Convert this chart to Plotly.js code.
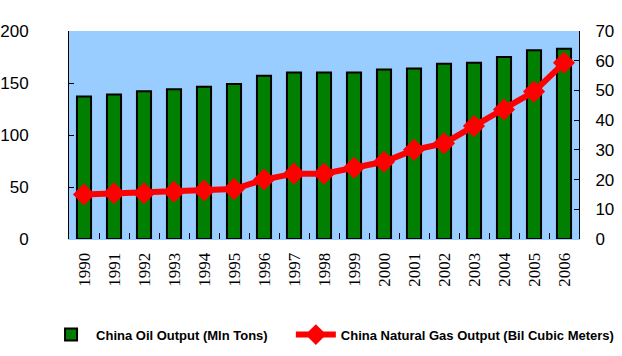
<!DOCTYPE html>
<html><head><meta charset="utf-8">
<script src="https://cdn.plot.ly/plotly-3.0.1.min.js"></script>
<style>html,body{margin:0;padding:0;background:#fff}#chart{width:622px;height:356px}</style>
</head><body><div id="chart"></div>
<script>
const years = ["1990","1991","1992","1993","1994","1995","1996","1997","1998","1999","2000","2001","2002","2003","2004","2005","2006"];
const oilOutput = [137,139,142,144,146.5,149,157,160,160,160,163,164,168.5,169.5,175,181.5,183];
const gasOutput = [15,15.4,15.4,15.9,16.3,16.8,20,22,22,24,26,30,32.2,38,43.6,49.6,59.3];
const leftTicks = [0,50,100,150,200];
const rightTicks = [0,10,20,30,40,50,60,70];

const legendFont = {family:'Liberation Sans, Arial, sans-serif', size:13, color:'#000', weight:'bold'};
const traces = [
  {type:'bar', x:years, y:oilOutput, name:'China Oil Output (Mln Tons)', legend:'legend',
   marker:{color:'#007f00', line:{color:'#000', width:2}}},
  {type:'scatter', mode:'lines+markers', x:years, y:gasOutput, yaxis:'y2', legend:'legend2',
   name:'China Natural Gas Output (Bil Cubic Meters)', cliponaxis:false,
   line:{color:'#ff0000', width:6}, marker:{symbol:'diamond', size:17, color:'#ff0000'}}
];
const layout = {
  width:622, height:356,
  margin:{l:69, r:43, t:31, b:117},
  paper_bgcolor:'#fff', plot_bgcolor:'#99ccff',
  bargap:0.53,
  showlegend:true,
  legend:{orientation:'h', xref:'paper', x:-0.045, xanchor:'left', yref:'container', y:0.06, yanchor:'middle',
          font:legendFont, itemwidth:40, bgcolor:'rgba(0,0,0,0)'},
  legend2:{orientation:'h', xref:'paper', x:0.435, xanchor:'left', yref:'container', y:0.06, yanchor:'middle',
          font:legendFont, itemwidth:40, bgcolor:'rgba(0,0,0,0)'},
  xaxis:{type:'category', range:[-0.5,16.5], tickson:'boundaries', ticks:'inside', ticklen:6, tickcolor:'#000',
         showline:true, linecolor:'#99ccff', showgrid:false, tickangle:-90,
         ticklabelstandoff:6,
         tickfont:{family:'Liberation Serif, serif', size:17, color:'#000'}},
  yaxis:{range:[0,200], tickvals:leftTicks, ticktext:leftTicks.map(String), ticks:'inside', ticklen:5,
         tickcolor:'#000', showline:true, linecolor:'#000', linewidth:1, showgrid:false, zeroline:false,
         ticklabelstandoff:36,
         tickfont:{family:'Liberation Sans, Arial, sans-serif', size:17, color:'#000'}},
  yaxis2:{range:[0,70], tickvals:rightTicks, ticktext:rightTicks.map(String), overlaying:'y', side:'right',
          ticks:'inside', ticklen:5, tickcolor:'#000', showline:true, linecolor:'#000', linewidth:1,
          showgrid:false, zeroline:false, ticklabelstandoff:12,
          tickfont:{family:'Liberation Sans, Arial, sans-serif', size:17, color:'#000'}}
};
Plotly.newPlot('chart', traces, layout, {displayModeBar:false, staticPlot:true});
</script></body></html>
